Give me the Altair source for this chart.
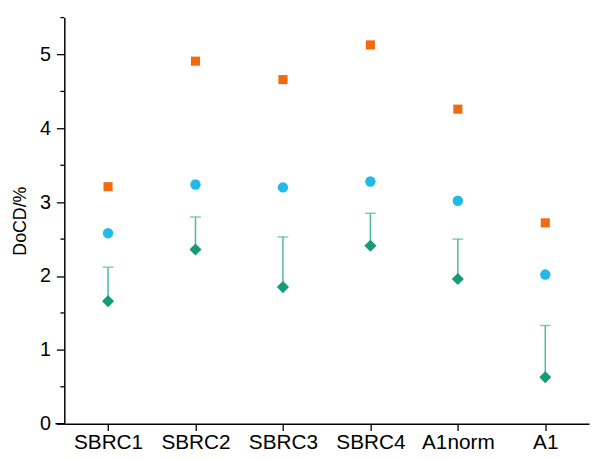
import altair as alt
import pandas as pd

categories = ["SBRC1", "SBRC2", "SBRC3", "SBRC4", "A1norm", "A1"]
orange_sq = [3.21, 4.91, 4.66, 5.13, 4.26, 2.72]
cyan_circ = [2.58, 3.24, 3.20, 3.28, 3.02, 2.02]
green_dia = [1.66, 2.36, 1.85, 2.41, 1.96, 0.63]
green_err_top = [2.12, 2.80, 2.53, 2.85, 2.50, 1.33]
y_major = [0, 1, 2, 3, 4, 5]
y_minor = [0.5, 1.5, 2.5, 3.5, 4.5, 5.5]

df = pd.DataFrame({
    "cat": categories,
    "sq": orange_sq,
    "circ": cyan_circ,
    "dia": green_dia,
    "top": green_err_top,
})
minor_df = pd.DataFrame({"v": y_minor})

FONT = "Liberation Sans"

x_enc = alt.X(
    "cat:N",
    sort=categories,
    scale=alt.Scale(type="point", padding=0.5),
    axis=alt.Axis(
        title=None, labelAngle=0, labelFont=FONT, labelFontSize=21,
        labelColor="black", tickColor="black", domainColor="black",
        tickSize=7, tickWidth=1.3, domainWidth=1.5, labelPadding=1, grid=False,
    ),
)
y_scale = alt.Scale(domain=[0, 5.5], nice=False)
y_axis = alt.Axis(
    values=y_major, format="d", title="DoCD/%", titleFont=FONT, titleFontSize=18,
    titleFontWeight="normal", titleColor="black", titlePadding=10,
    labelFont=FONT, labelFontSize=20, labelColor="black", tickColor="black",
    domainColor="black", tickSize=8, tickWidth=1.3, domainWidth=1.5,
    labelPadding=6, grid=False,
)

base = alt.Chart(df)

err = base.mark_rule(color="#4CBB9C", strokeWidth=1.5).encode(
    x=x_enc, y=alt.Y("dia:Q", scale=y_scale, axis=y_axis), y2="top:Q"
)
cap = base.mark_tick(color="#4CBB9C", size=11, thickness=1.5, orient="horizontal").encode(
    x=x_enc, y=alt.Y("top:Q", scale=y_scale)
)
sq = base.mark_point(shape="square", filled=True, size=85, color="#F26A10", opacity=1).encode(
    x=x_enc, y=alt.Y("sq:Q", scale=y_scale)
)
circ = base.mark_point(shape="circle", filled=True, size=110, color="#22B9E6", opacity=1).encode(
    x=x_enc, y=alt.Y("circ:Q", scale=y_scale)
)
dia = base.mark_point(shape="diamond", filled=True, size=150, color="#159B78", opacity=1).encode(
    x=x_enc, y=alt.Y("dia:Q", scale=y_scale)
)
minor = alt.Chart(minor_df).mark_rule(color="black", strokeWidth=1.3, clip=False).encode(
    x=alt.value(-4), x2=alt.value(0), y=alt.Y("v:Q", scale=y_scale)
)
ext = alt.Chart(pd.DataFrame({"z": [0]})).mark_rule(color="black", strokeWidth=1.5, clip=False).encode(
    x=alt.value(-9), x2=alt.value(0), y=alt.Y("z:Q", scale=y_scale)
)

chart = alt.layer(err, cap, sq, circ, dia, minor, ext).properties(
    width=531, height=411,
    autosize=alt.AutoSizeParams(type="none"),
    padding={"left": 57, "top": 7, "right": 1, "bottom": 32},
    background="white",
).configure_view(stroke=None)

chart.save("out.html", embed_options={"renderer": "svg", "actions": False})
